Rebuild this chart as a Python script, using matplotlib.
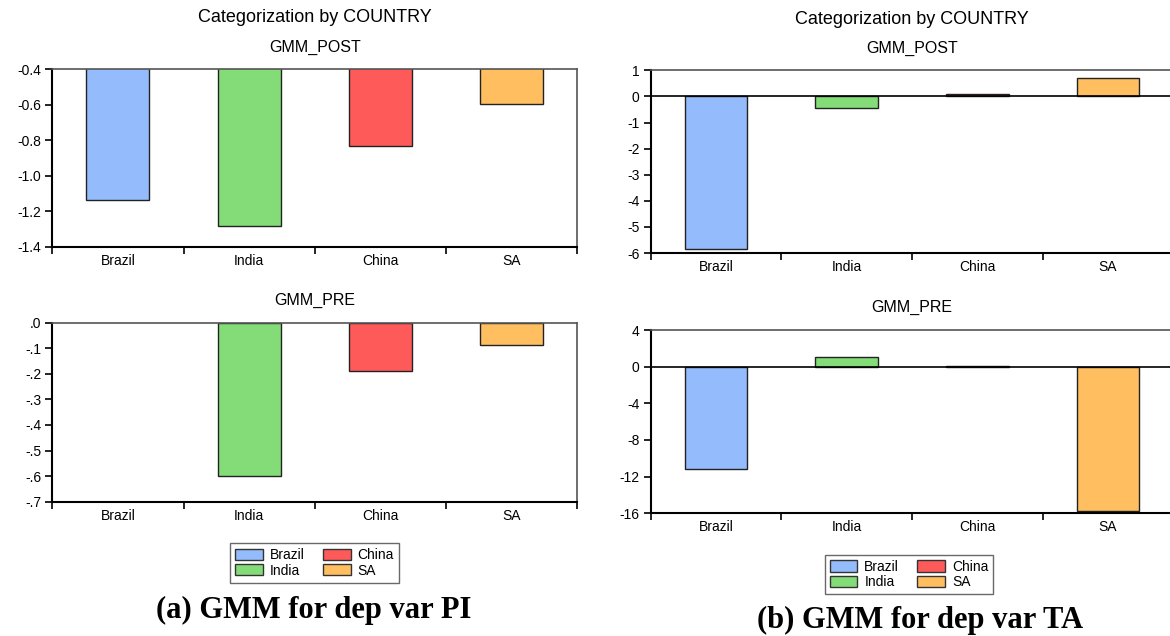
import numpy as np
import matplotlib.pyplot as plt
from matplotlib.patches import Patch

plt.rcParams['font.family'] = ['Liberation Sans', 'DejaVu Sans']

# data
countries = ['Brazil', 'India', 'China', 'SA']
colors = ['#94bbfc', '#84dc78', '#ff5a5a', '#ffbe5f']

pi_post = [-1.134, -1.284, -0.831, -0.595]
pi_pre = [np.nan, -0.598, -0.189, -0.088]  # no Brazil bar shown
ta_post = [-5.85, -0.46, 0.11, 0.69]
ta_pre = [-11.16, 1.0, 0.08, -15.7]

pi_post_ticks = [-0.4, -0.6, -0.8, -1.0, -1.2, -1.4]
pi_post_labels = ['-0.4', '-0.6', '-0.8', '-1.0', '-1.2', '-1.4']
pi_pre_ticks = [0.0, -0.1, -0.2, -0.3, -0.4, -0.5, -0.6, -0.7]
pi_pre_labels = ['.0', '-.1', '-.2', '-.3', '-.4', '-.5', '-.6', '-.7']
ta_post_ticks = [1, 0, -1, -2, -3, -4, -5, -6]
ta_post_labels = ['1', '0', '-1', '-2', '-3', '-4', '-5', '-6']
ta_pre_ticks = [4, 0, -4, -8, -12, -16]
ta_pre_labels = ['4', '0', '-4', '-8', '-12', '-16']

fig = plt.figure(figsize=(11.7, 6.36), dpi=100)
W, H = 1170.0, 636.0


def make_ax(left, right, top, bottom):
    return fig.add_axes([left / W, 1 - bottom / H, (right - left) / W, (bottom - top) / H])


def draw_panel(ax, vals, ticks, labels, ylim, zero_line=False):
    x = np.arange(len(countries))
    ax.bar(x, vals, width=0.48, color=colors, edgecolor='#222222', linewidth=1.0, zorder=2)
    ax.set_xlim(-0.5, len(countries) - 0.5)
    ax.set_ylim(*ylim)
    ax.set_yticks(ticks)
    ax.set_yticklabels(labels)
    ax.set_xticks(np.arange(len(countries) + 1) - 0.5)
    ax.set_xticklabels([])
    ax.set_xticks(x, minor=True)
    ax.set_xticklabels(countries, minor=True)
    ax.tick_params(axis='x', which='major', direction='out', length=5, width=1.2, color='black')
    ax.tick_params(axis='x', which='minor', length=0, pad=5, labelsize=10)
    ax.tick_params(axis='y', direction='out', length=5, width=1.2, pad=3, labelsize=10)
    for s in ['left', 'bottom']:
        ax.spines[s].set_linewidth(1.5)
        ax.spines[s].set_color('black')
    for s in ['top', 'right']:
        ax.spines[s].set_linewidth(1.2)
        ax.spines[s].set_color('#555555')
    if zero_line:
        ax.axhline(0, color='black', linewidth=1.2, zorder=3)


ax1 = make_ax(52.3, 577.3, 69.3, 247)
draw_panel(ax1, pi_post, pi_post_ticks, pi_post_labels, (-1.4, -0.4))
ax2 = make_ax(52.3, 577.3, 322.7, 501.7)
draw_panel(ax2, pi_pre, pi_pre_ticks, pi_pre_labels, (-0.7, 0.0))
ax3 = make_ax(650.7, 1173.4, 70.3, 253)
draw_panel(ax3, ta_post, ta_post_ticks, ta_post_labels, (-6, 1), zero_line=True)
ax4 = make_ax(650.7, 1173.4, 330, 513.3)
draw_panel(ax4, ta_pre, ta_pre_ticks, ta_pre_labels, (-16, 4), zero_line=True)

# titles
fig.text(314.8 / W, 1 - 18 / H, 'Categorization by COUNTRY', ha='center', va='center', fontsize=13)
fig.text(314.8 / W, 1 - 47 / H, 'GMM_POST', ha='center', va='center', fontsize=11.5)
fig.text(314.8 / W, 1 - 300 / H, 'GMM_PRE', ha='center', va='center', fontsize=11.5)
fig.text(912 / W, 1 - 19 / H, 'Categorization by COUNTRY', ha='center', va='center', fontsize=13)
fig.text(912 / W, 1 - 48 / H, 'GMM_POST', ha='center', va='center', fontsize=11.5)
fig.text(912 / W, 1 - 307 / H, 'GMM_PRE', ha='center', va='center', fontsize=11.5)

# legends
handles = [Patch(facecolor=c, edgecolor='#333333', linewidth=1.0) for c in colors]
for cx, cy in [(314.5, 563), (909, 574.5)]:
    fig.legend(handles, countries, ncol=2, loc='center', bbox_to_anchor=(cx / W, 1 - cy / H),
               fontsize=10, frameon=True, fancybox=False, edgecolor='#444444',
               handlelength=2.0, handleheight=0.85, handletextpad=0.5, columnspacing=1.3,
               labelspacing=0.1, borderpad=0.35, borderaxespad=0)

# captions
fig.text(314 / W, 1 - 610 / H, '(a) GMM for dep var PI', ha='center', va='center',
         fontsize=22, fontweight='bold', family=['Liberation Serif', 'DejaVu Serif'])
fig.text(920 / W, 1 - 620 / H, '(b) GMM for dep var TA', ha='center', va='center',
         fontsize=22, fontweight='bold', family=['Liberation Serif', 'DejaVu Serif'])

fig.savefig('out.png', dpi=100)
